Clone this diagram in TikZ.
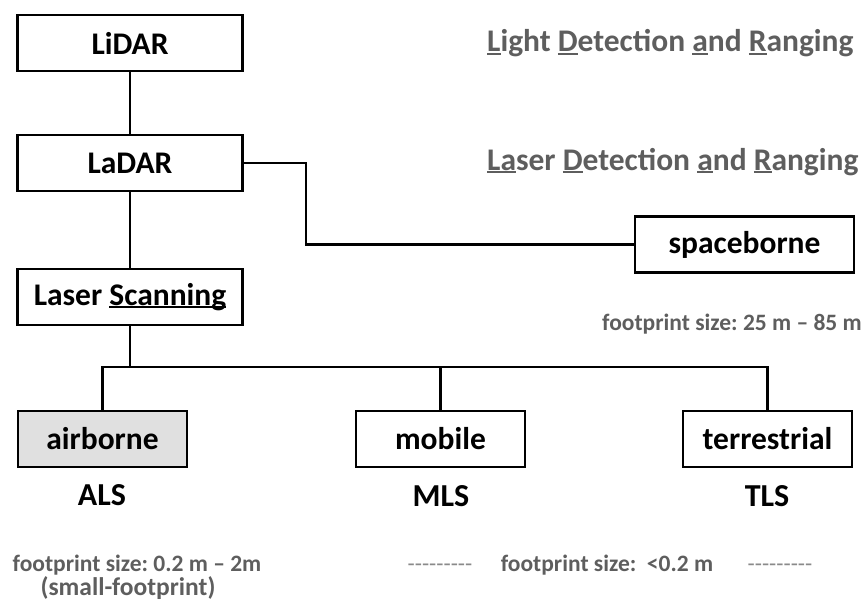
\documentclass[tikz,border=0pt]{standalone}
\usepackage{fontspec}
\setmainfont{Carlito}
\usetikzlibrary{calc}
\definecolor{txtgray}{HTML}{5E5E5E}
\definecolor{dashgray}{HTML}{8A8A8A}
\definecolor{boxfill}{HTML}{E0E0E0}
\newcommand\hy{\mbox{-}}
\newcommand\dashes{\hy\hy\hy\hy\hy\hy\hy\hy\hy}
\newsavebox\ulbox
\newcommand\myul[1]{\sbox\ulbox{#1}\rlap{\rule[-3pt]{\wd\ulbox}{2pt}}\usebox\ulbox}
\frenchspacing
\begin{document}
\begin{tikzpicture}[x=1pt,y=-1pt,
  box/.style={draw=black,line width=2.6pt,minimum height=56pt,inner sep=0pt,
    font=\fontsize{31.5}{36}\selectfont\bfseries,text=black},
  line/.style={line width=2.4pt,black},
  gtext/.style={font=\fontsize{31.5}{36}\selectfont\bfseries,text=txtgray,inner sep=0pt},
  ftext/.style={font=\fontsize{23.5}{28}\selectfont\bfseries,text=txtgray,inner sep=0pt},
  dtext/.style={font=\fontsize{23.5}{28}\selectfont,text=dashgray,inner sep=0pt},
  abbr/.style={font=\fontsize{32}{36}\selectfont\bfseries,text=black,inner sep=0pt}]
\useasboundingbox (0,0) rectangle (867,602);
\node[box,minimum width=225pt] (lidar) at (130,43) {LiDAR};
\node[box,minimum width=225pt] (ladar) at (130,163) {LaDAR};
\node[box,minimum width=225pt] (ls) at (130,297) {Laser \myul{Scanning}};
\node[box,minimum width=219pt] (space) at (744.5,244.5) {spaceborne};
\node[box,minimum width=169pt,fill=boxfill] (air) at (102.5,439) {airborne};
\node[box,minimum width=169pt] (mob) at (440.5,439) {mobile};
\node[box,minimum width=169pt] (ter) at (767.5,439) {terrestrial};

\node[gtext,anchor=base west] (t1) at (487,52) {\myul{L}ight \myul{D}etection \myul{a}nd \myul{R}anging};
\node[gtext,anchor=base west] (t2) at (487,170) {\myul{La}ser \myul{D}etection \myul{a}nd \myul{R}anging};
\node[ftext,anchor=base east] (f1) at (862,330) {footprint size: 25 m – 85 m};

\node[abbr,anchor=base] (als) at (102,505) {ALS};
\node[abbr,anchor=base] (mls) at (441,506) {MLS};
\node[abbr,anchor=base] (tls) at (767,506) {TLS};

\node[ftext,anchor=base] (f2) at (137,571) {footprint size: 0.2 m – 2m};
\node[ftext,anchor=base,font=\fontsize{25.5}{30}\selectfont\bfseries] (f3) at (128,595) {(small-footprint)};
\node[dtext,anchor=base] (d1) at (440,571) {\dashes};
\node[ftext,anchor=base] (f4) at (607,571) {footprint size:\ \ <0.2 m};
\node[dtext,anchor=base] (d2) at (780,571) {\dashes};

\coordinate (c1) at (306,163);
\coordinate (bus) at (130,367);
\draw[line] (lidar.south) -- (ladar.north);
\draw[line] (ladar.south) -- (ls.north);
\draw[line] (ladar.east) -- (c1) |- (space.west);
\draw[line] (ls.south) -- (bus);
\draw[line] (air.north) |- (ter.north |- bus) -- (ter.north);
\draw[line] (mob.north) -- (mob.north |- bus);
\end{tikzpicture}
\end{document}
